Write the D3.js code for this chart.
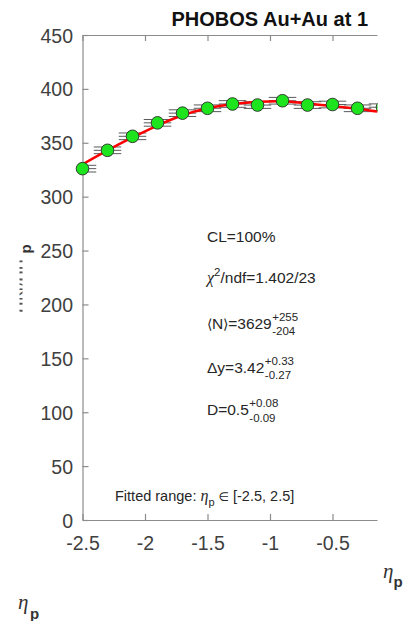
<!DOCTYPE html>
<html>
<head>
<meta charset="utf-8">
<script src="https://cdn.jsdelivr.net/npm/d3@7"></script>
<style>
  html, body { margin: 0; padding: 0; background: #fff; }
  svg { display: block; font-family: "Liberation Sans", Arial, sans-serif; }
</style>
</head>
<body>
<svg id="chart" width="403" height="621"></svg>
<script>
// Pseudorapidity bins (eta_p) and measured dN/deta_p
const etaBins   = [-2.5, -2.3, -2.1, -1.9, -1.7, -1.5, -1.3, -1.1, -0.9, -0.7, -0.5, -0.3, -0.1];
const dNdEta    = [326, 343, 356, 368.5, 377.5, 382, 386, 385, 389, 385, 385.5, 382, 383];
const sysErr    = [3.1, 3.1, 3.1, 3.1, 3.1, 3.1, 3.1, 3.1, 3.1, 3.1, 3.1, 3.1, 3.1];
const binHalfW  = 0.11;

// Fitted curve sampled along eta_p
const fitEta    = [-2.5, -2.3, -2.1, -1.9, -1.7, -1.5, -1.3, -1.1, -0.9, -0.7, -0.5, -0.3, -0.1, 0.0];
const fitVal    = [330, 343, 355, 366, 375.5, 382, 386, 388, 388.5, 386.5, 384, 381.5, 378.5, 377.5];

// Axis ticks
const xTicks      = [-2.5, -2, -1.5, -1, -0.5];
const xTickLabels = ["-2.5", "-2", "-1.5", "-1", "-0.5"];
const yTicks      = [0, 50, 100, 150, 200, 250, 300, 350, 400, 450];

const svg = d3.select("#chart");
const cropW = 377.5;
const L = 82.5, T = 35, B = 520;

const x = d3.scaleLinear().domain([-2.5, 2.5]).range([L, L + 625]);
const y = d3.scaleLinear().domain([0, 450]).range([B, T]);

const defs = svg.append("defs");
defs.append("clipPath").attr("id", "crop")
  .append("rect").attr("x", 0).attr("y", 0).attr("width", cropW).attr("height", 621);
defs.append("clipPath").attr("id", "plot")
  .append("rect").attr("x", L).attr("y", T).attr("width", cropW - L).attr("height", B - T);
defs.append("clipPath").attr("id", "ylab")
  .append("rect").attr("x", 19.5).attr("y", 230).attr("width", 3).attr("height", 100);

const g = svg.append("g").attr("clip-path", "url(#crop)");

// Axes
const axisColor = "#8c8c8c";
const labColor = "#404040";
function styleAxis(sel) {
  sel.select(".domain").attr("stroke", axisColor).attr("stroke-width", 1.2);
  sel.selectAll(".tick line").attr("stroke", axisColor).attr("stroke-width", 1.2);
  sel.selectAll(".tick text").attr("fill", labColor)
    .attr("font-family", "Liberation Sans, Arial, sans-serif").attr("font-size", 19.5);
}

const xAxis = g.append("g").attr("transform", `translate(0,${B})`)
  .call(d3.axisBottom(x).tickValues(xTicks).tickFormat((d, i) => xTickLabels[i])
    .tickSize(-6).tickSizeOuter(0).tickPadding(16));
styleAxis(xAxis);

const xTop = g.append("g").attr("transform", `translate(0,${T})`)
  .call(d3.axisTop(x).tickValues(xTicks).tickFormat("").tickSize(-6).tickSizeOuter(0));
styleAxis(xTop);

const yAxis = g.append("g").attr("transform", `translate(${L},0)`)
  .call(d3.axisLeft(y).tickValues(yTicks).tickSize(-6).tickSizeOuter(0).tickPadding(9.5));
styleAxis(yAxis);
yAxis.selectAll(".tick text").attr("dy", "0.36em");

// Systematic boxes and horizontal bars
const plotG = g.append("g").attr("clip-path", "url(#plot)");
const pts = etaBins.map((e, i) => ({ e, v: dNdEta[i], s: sysErr[i] }));
const boxC = "#5a5a5a";
pts.forEach(p => {
  const x0 = x(p.e - binHalfW), x1 = x(p.e + binHalfW);
  [p.v + p.s, p.v, p.v - p.s].forEach(val => {
    plotG.append("line")
      .attr("x1", x0).attr("x2", x1)
      .attr("y1", y(val)).attr("y2", y(val))
      .attr("stroke", boxC).attr("stroke-width", 1);
  });
});

// Fit curve
const line = d3.line().x(d => x(d[0])).y(d => y(d[1])).curve(d3.curveCatmullRom);
plotG.append("path")
  .datum(fitEta.map((e, i) => [e, fitVal[i]]))
  .attr("d", line)
  .attr("fill", "none").attr("stroke", "#ff0000").attr("stroke-width", 2.5);

// Data markers
g.append("g").selectAll("circle").data(pts).join("circle")
  .attr("cx", d => x(d.e)).attr("cy", d => y(d.v)).attr("r", 6.3)
  .attr("fill", "#1ee41e").attr("stroke", "#2f3f2f").attr("stroke-width", 1);

// Title
g.append("text").attr("x", 171.5).attr("y", 26)
  .attr("font-size", 20).attr("font-weight", "bold").attr("fill", "#111")
  .text("PHOBOS Au+Au at 1");

// Fit summary
const txtC = "#262626";
const mainFS = 15.5, smallFS = 11.5;
function valueWithErrors(xp, yb, main, up, dn, supDy, subDy) {
  const t = g.append("text").attr("x", xp).attr("y", yb)
    .attr("font-size", mainFS).attr("fill", txtC);
  main(t);
  const w = t.node().getComputedTextLength();
  g.append("text").attr("x", xp + w + 0.5).attr("y", yb + supDy)
    .attr("font-size", smallFS).attr("fill", txtC).text(up);
  g.append("text").attr("x", xp + w + 0.5).attr("y", yb + subDy)
    .attr("font-size", smallFS).attr("fill", txtC).text(dn);
}

g.append("text").attr("x", 207).attr("y", 241.5)
  .attr("font-size", mainFS).attr("fill", txtC).text("CL=100%");

const chi = g.append("text").attr("x", 207).attr("y", 282.5)
  .attr("font-size", mainFS).attr("fill", txtC);
chi.append("tspan").attr("font-family", "Liberation Serif, serif").attr("font-style", "italic")
  .attr("font-size", 16).text("χ");
chi.append("tspan").attr("font-size", smallFS).attr("dy", -7).text("2");
chi.append("tspan").attr("dy", 7).text("/ndf=1.402/23");

valueWithErrors(207, 329, t => {
  t.append("tspan").attr("font-family", "DejaVu Sans, sans-serif").attr("font-weight", 200)
    .attr("font-size", 14).text("⟨");
  t.append("tspan").text("N");
  t.append("tspan").attr("font-family", "DejaVu Sans, sans-serif").attr("font-weight", 200)
    .attr("font-size", 14).text("⟩");
  t.append("tspan").text("=3629");
}, "+255", "-204", -8.3, 5.5);

valueWithErrors(207, 373.3, t => t.text("Δy=3.42"), "+0.33", "-0.27", -8.3, 6);
valueWithErrors(207, 415, t => t.text("D=0.5"), "+0.08", "-0.09", -8.3, 7);

const fr = g.append("text").attr("x", 115).attr("y", 501)
  .attr("font-size", 14.5).attr("fill", txtC);
fr.append("tspan").text("Fitted range: ");
fr.append("tspan").attr("font-family", "Liberation Serif, serif").attr("font-style", "italic")
  .attr("font-size", 16).text("η");
fr.append("tspan").attr("font-size", 11).attr("dy", 5).text("p");
fr.append("tspan").attr("dy", -5).text(" ");
fr.append("tspan").attr("font-family", "DejaVu Sans, sans-serif").attr("font-size", 12).text("∈");
fr.append("tspan").text(" [-2.5, 2.5]");

// Y-axis title, mostly hidden behind the tick column
svg.append("g").attr("clip-path", "url(#ylab)")
  .append("text").attr("transform", "translate(26.5,259) rotate(-90)")
  .attr("text-anchor", "end").attr("font-size", 20).attr("fill", "#555")
  .text("dN/dη");
svg.append("text").attr("transform", "translate(30.5,249) rotate(-90)")
  .attr("text-anchor", "middle").attr("font-size", 15).attr("font-weight", "bold")
  .attr("fill", "#333").text("p");

// X-axis titles
function etaP(xp, yb, subDx, subDy) {
  const t = svg.append("text").attr("x", xp).attr("y", yb).attr("fill", "#333");
  t.append("tspan").attr("font-family", "Liberation Serif, serif").attr("font-style", "italic")
    .attr("font-size", 21).text("η");
  t.append("tspan").attr("font-family", "Liberation Sans, Arial, sans-serif")
    .attr("font-weight", "bold").attr("font-size", 15).attr("dx", subDx).attr("dy", subDy).text("p");
}
etaP(383, 578, 0, 9);
etaP(18, 609, 1.5, 10);
</script>
</body>
</html>
